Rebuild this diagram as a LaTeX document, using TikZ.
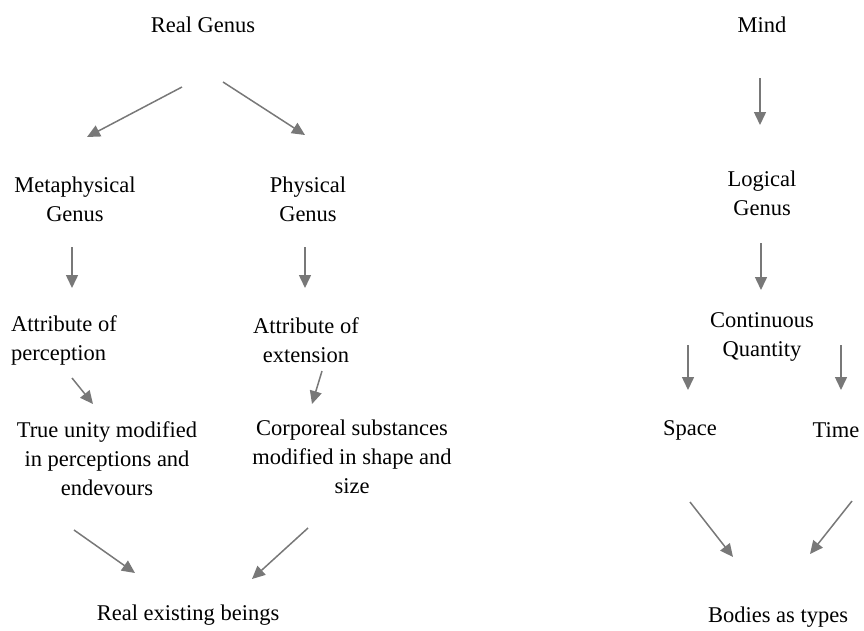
\documentclass[tikz,border=0pt]{standalone}
\usepackage{fontspec}
\setmainfont{Liberation Serif}
\usetikzlibrary{arrows.meta}
\definecolor{arrowgray}{RGB}{120,120,120}
\tikzset{
  lbl/.style={align=center, inner sep=0pt, font=\fontsize{22.5}{29}\selectfont, text=black},
  lbll/.style={align=left, inner sep=0pt, font=\fontsize{22.5}{29}\selectfont, text=black, anchor=west},
  arr/.style={draw=arrowgray, line width=1.5pt, -{Triangle[length=13pt,width=12pt]}, fill=arrowgray}
}
\begin{document}
\begin{tikzpicture}[x=1pt,y=-1pt]
\useasboundingbox (0,0) rectangle (864,630);
% nodes
\node[lbl] (realgenus) at (203,25) {Real Genus};
\node[lbl] (mind) at (762,25) {Mind};
\node[lbl] (meta) at (75,199) {Metaphysical\\Genus};
\node[lbl] (phys) at (308,199) {Physical\\Genus};
\node[lbll] (attrperc) at (11,340) {Attribute of\\perception};
\node[lbl] (attrext) at (306,340) {Attribute of\\extension};
\node[lbl] (unity) at (107,459) {True unity modified\\in perceptions and\\endevours};
\node[lbl] (corp) at (352,457) {Corporeal substances\\modified in shape and\\size};
\node[lbl] (beings) at (188,615) {Real existing beings};
\node[lbl] (logical) at (762,193) {Logical\\Genus};
\node[lbl] (cont) at (762,337) {Continuous\\Quantity};
\node[lbl] (space) at (690,430) {Space};
\node[lbl] (time) at (836,430) {Time};
\node[lbl] (bodies) at (778,617) {Bodies as types};
% arrow end points
\coordinate (a1s) at (182,87);  \coordinate (a1e) at (87,137);
\coordinate (a2s) at (223,82);  \coordinate (a2e) at (305,135);
\coordinate (a3s) at (72,247);  \coordinate (a3e) at (72,288);
\coordinate (a4s) at (305,247); \coordinate (a4e) at (305,288);
\coordinate (a5s) at (72,378);  \coordinate (a5e) at (93,404);
\coordinate (a6s) at (322,371); \coordinate (a6e) at (312,404);
\coordinate (a7s) at (74,530);  \coordinate (a7e) at (135,573);
\coordinate (a8s) at (308,528); \coordinate (a8e) at (252,579);
\coordinate (a9s) at (760,78);  \coordinate (a9e) at (760,125);
\coordinate (a10s) at (761,243); \coordinate (a10e) at (761,290);
\coordinate (a11s) at (688,345); \coordinate (a11e) at (688,390);
\coordinate (a12s) at (841,345); \coordinate (a12e) at (841,390);
\coordinate (a13s) at (690,502); \coordinate (a13e) at (733,557);
\coordinate (a14s) at (852,501); \coordinate (a14e) at (810,554);
% arrows
\foreach \i in {1,...,14} {
  \draw[arr] (a\i s) -- (a\i e);
}
\end{tikzpicture}
\end{document}
